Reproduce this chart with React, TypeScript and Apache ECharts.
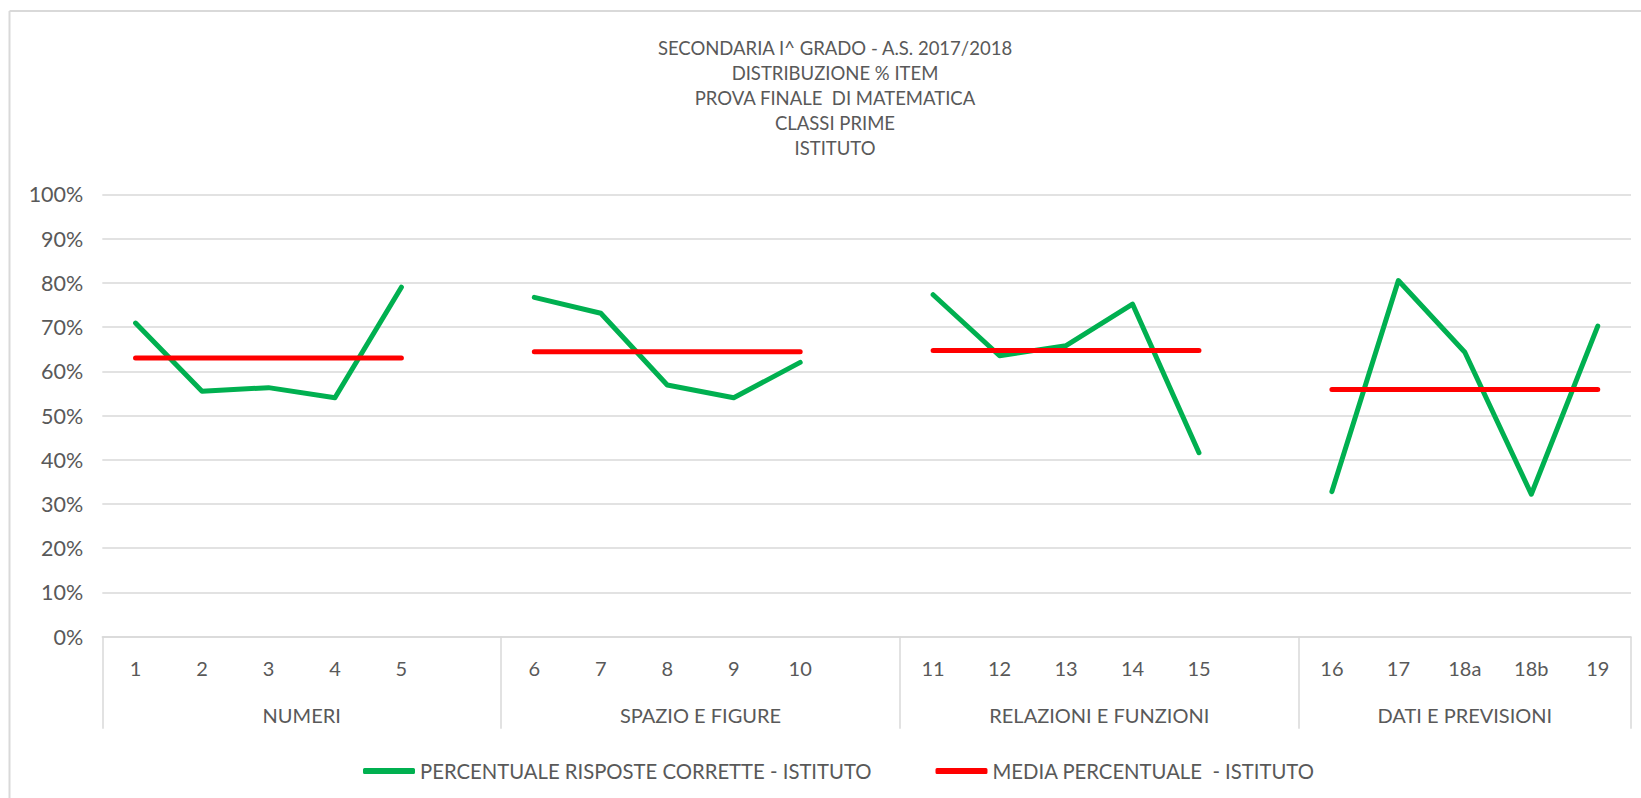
import React, { useEffect, useRef } from "react";
import * as echarts from "echarts";

// ---- data ----
const titleLines = [
  "SECONDARIA I^ GRADO - A.S. 2017/2018",
  "DISTRIBUZIONE % ITEM",
  "PROVA FINALE  DI MATEMATICA",
  "CLASSI PRIME",
  "ISTITUTO",
];
const groupNames = ["NUMERI", "SPAZIO E FIGURE", "RELAZIONI E FUNZIONI", "DATI E PREVISIONI"];
const itemsNumeri = ["1", "2", "3", "4", "5"];
const itemsSpazio = ["6", "7", "8", "9", "10"];
const itemsRelazioni = ["11", "12", "13", "14", "15"];
const itemsDati = ["16", "17", "18a", "18b", "19"];
const correctNumeri = [70.9, 55.5, 56.3, 54.0, 79.0];
const correctSpazio = [76.7, 73.1, 56.9, 54.0, 62.0];
const correctRelazioni = [77.3, 63.5, 65.8, 75.2, 41.6];
const correctDati = [32.8, 80.5, 64.3, 32.2, 70.2];
const groupMeans = [63.0, 64.4, 64.7, 55.9];
const seriesNames = ["PERCENTUALE RISPOSTE CORRETTE - ISTITUTO", "MEDIA PERCENTUALE  - ISTITUTO"];
const yMin = 0;
const yMax = 100;
const yStep = 10;

const FONT = "Lato";
const TEXT = "#595959";
const GRID = "#d9d9d9";

export default function App() {
  const ref = useRef<HTMLDivElement>(null);
  useEffect(() => {
    if (!ref.current) return;
    const chart = echarts.init(ref.current, undefined, { renderer: "svg" });

    const itemGroups = [itemsNumeri, itemsSpazio, itemsRelazioni, itemsDati];
    const valueGroups = [correctNumeri, correctSpazio, correctRelazioni, correctDati];
    const categories: string[] = [];
    const correct: (number | null)[] = [];
    const mean: (number | null)[] = [];
    const groupStarts: number[] = [];
    const groupSizes: number[] = [];
    itemGroups.forEach((items, g) => {
      groupStarts.push(categories.length);
      items.forEach((it, i) => {
        categories.push(it);
        correct.push(valueGroups[g][i]);
        mean.push(groupMeans[g]);
      });
      if (g < itemGroups.length - 1) {
        categories.push("");
        correct.push(null);
        mean.push(null);
      }
      groupSizes.push(categories.length - groupStarts[g]);
    });
    const N = categories.length;
    const half: string[] = new Array(2 * N + 1).fill("");
    const boundaries = new Set<number>();
    groupNames.forEach((name, g) => {
      const s = groupStarts[g];
      const k = groupSizes[g];
      half[2 * s + k] = name;
      boundaries.add(2 * s);
      boundaries.add(2 * (s + k));
    });

    chart.setOption({
      animation: false,
      backgroundColor: "#ffffff",
      textStyle: { fontFamily: FONT },
      title: {
        text: titleLines.join("\n"),
        left: 830,
        textAlign: "center",
        top: 31,
        textStyle: { fontFamily: FONT, fontSize: 18.5, fontWeight: "normal", color: TEXT, lineHeight: 24.8 },
      },
      graphic: [
        { type: "line", shape: { x1: 9.5, y1: 11, x2: 9.5, y2: 798 }, style: { stroke: GRID, lineWidth: 2 } },
        { type: "line", shape: { x1: 9.5, y1: 11, x2: 1641, y2: 11 }, style: { stroke: GRID, lineWidth: 2 } },
      ],
      legend: {
        left: 358,
        top: 756,
        itemWidth: 52,
        itemHeight: 6,
        itemGap: 64,
        icon: "roundRect",
        textStyle: { fontFamily: FONT, fontSize: 20.3, color: TEXT },
        data: seriesNames,
      },
      grid: { left: 102.3, right: 10, top: 194.3, bottom: 161.3, containLabel: false },
      xAxis: [
        {
          type: "category",
          position: "bottom",
          data: categories,
          boundaryGap: true,
          axisLine: { show: true, lineStyle: { color: GRID, width: 1.5 } },
          axisTick: { show: false },
          axisLabel: { interval: 0, margin: 21, fontFamily: FONT, fontSize: 20, color: TEXT },
          splitLine: { show: false },
        },
        {
          type: "category",
          position: "bottom",
          data: half,
          boundaryGap: false,
          axisLine: { show: false },
          axisTick: {
            show: true,
            length: 92,
            interval: (idx: number) => boundaries.has(idx),
            lineStyle: { color: GRID, width: 1.5 },
          },
          axisLabel: { interval: 0, margin: 68, fontFamily: FONT, fontSize: 20, color: TEXT },
          splitLine: { show: false },
        },
      ],
      yAxis: {
        type: "value",
        min: yMin,
        max: yMax,
        interval: yStep,
        axisLine: { show: false },
        axisTick: { show: false },
        axisLabel: { formatter: "{value}%", margin: 19, fontFamily: FONT, fontSize: 21.5, color: TEXT },
        splitLine: { show: true, lineStyle: { color: GRID, width: 1.5 } },
      },
      series: [
        {
          name: seriesNames[0],
          type: "line",
          xAxisIndex: 0,
          data: correct,
          connectNulls: false,
          symbol: "none",
          lineStyle: { color: "#00B050", width: 5, cap: "round", join: "round" },
          itemStyle: { color: "#00B050" },
        },
        {
          name: seriesNames[1],
          type: "line",
          xAxisIndex: 0,
          data: mean,
          connectNulls: false,
          symbol: "none",
          lineStyle: { color: "#FF0000", width: 5, cap: "round", join: "round" },
          itemStyle: { color: "#FF0000" },
        },
      ],
    });
    return () => chart.dispose();
  }, []);
  return (
    <div
      ref={ref}
      style={{ position: "fixed", left: 0, top: 0, width: 1641, height: 798, background: "#fff" }}
    />
  );
}
